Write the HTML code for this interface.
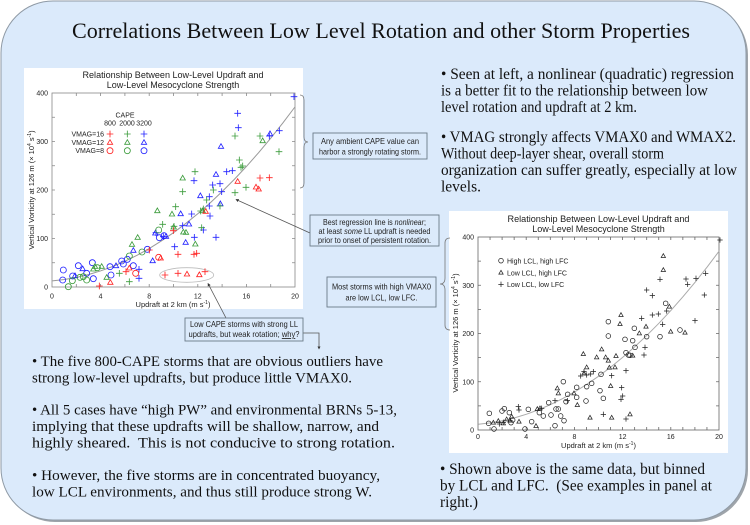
<!DOCTYPE html>
<html><head><meta charset="utf-8"><style>
html,body{margin:0;padding:0;background:#fff;}
svg{display:block;}
.s{font-family:"Liberation Serif",serif;fill:#111;}
.a{font-family:"Liberation Sans",sans-serif;fill:#222;}
</style></head><body>
<svg width="750" height="525" viewBox="0 0 750 525" xmlns="http://www.w3.org/2000/svg">
<defs>
<circle id="lc" r="9"/>
<path id="lt" d="M0,-9L8,5L-8,5Z"/>
<path id="lp" d="M-10,0H10M0,-10V10"/>
<circle id="rc" r="7"/>
<path id="rt" d="M0,-7L6.5,4.5L-6.5,4.5Z"/>
<path id="rp" d="M-8,0H8M0,-8V8"/>
<marker id="ah" viewBox="0 0 6 6" refX="5" refY="3" markerWidth="4" markerHeight="4" orient="auto"><path d="M0,0L6,3L0,6Z" fill="#333"/></marker>
</defs>
<rect x="3" y="3" width="745" height="519" rx="52" fill="#9ea4aa"/>
<rect x="1" y="1" width="745" height="519" rx="52" fill="#dbeafb" stroke="#8f9aa5" stroke-width="1"/>

<text class="s" x="72" y="38" font-size="22" textLength="618" lengthAdjust="spacingAndGlyphs">Correlations Between Low Level Rotation and other Storm Properties</text>

<!-- LEFT CHART -->
<rect x="24" y="68" width="279" height="241" fill="#fff"/>
<text class="a" x="173" y="78" font-size="9" text-anchor="middle" textLength="181" lengthAdjust="spacingAndGlyphs">Relationship Between Low-Level Updraft and</text>
<text class="a" x="173" y="88" font-size="9" text-anchor="middle">Low-Level Mesocyclone Strength</text>
<rect x="52" y="93" width="243" height="194" fill="none" stroke="#888" stroke-width="0.8"/>
<path d="M76.3,287v-3M100.6,287v-3M124.9,287v-3M149.2,287v-3M173.5,287v-3M197.8,287v-3M222.1,287v-3M246.4,287v-3M270.7,287v-3M76.3,93v3M100.6,93v3M124.9,93v3M149.2,93v3M173.5,93v3M197.8,93v3M222.1,93v3M246.4,93v3M270.7,93v3M52,262.75h3M52,238.5h3M52,214.25h3M52,190h3M52,165.75h3M52,141.5h3M52,117.25h3M295,262.75h-3M295,238.5h-3M295,214.25h-3M295,190h-3M295,165.75h-3M295,141.5h-3M295,117.25h-3" stroke="#888" stroke-width="0.8"/>
<g class="a" font-size="7" text-anchor="middle">
<text x="52" y="298.5">0</text><text x="100.6" y="298.5">4</text><text x="149.2" y="298.5">8</text><text x="197.8" y="298.5">12</text><text x="246.4" y="298.5">16</text><text x="295" y="298.5">20</text>
</g>
<g class="a" font-size="7" text-anchor="end">
<text x="48" y="289.5">0</text><text x="48" y="241">100</text><text x="48" y="192.5">200</text><text x="48" y="144">300</text><text x="48" y="95.5">400</text>
</g>
<text class="a" x="173" y="307" font-size="7.5" text-anchor="middle">Updraft at 2 km (m s<tspan dy="-3" font-size="5">-1</tspan><tspan dy="3">)</tspan></text>
<text class="a" transform="translate(34,190) rotate(-90)" font-size="7.5" text-anchor="middle">Vertical Vorticity at 126 m (× 10<tspan dy="-3" font-size="5">4</tspan><tspan dy="3"> s</tspan><tspan dy="-3" font-size="5">-1</tspan><tspan dy="3">)</tspan></text>
<!-- legend text -->
<text class="a" x="125" y="117.5" font-size="7" text-anchor="middle">CAPE</text>
<g class="a" font-size="7" text-anchor="middle"><text x="110" y="125.5">800</text><text x="127" y="125.5">2000</text><text x="144" y="125.5">3200</text></g>
<g class="a" font-size="7" text-anchor="end"><text x="104" y="136.5">VMAG=16</text><text x="104" y="145">VMAG=12</text><text x="104" y="153">VMAG=8</text></g>
<ellipse cx="186.7" cy="275" rx="27" ry="7.3" fill="none" stroke="#bbb" stroke-width="0.8"/>
<g transform="translate(40,60) scale(0.333333)" fill="none" stroke-width="2.5">
<polyline stroke="#999" stroke-width="3" points="37,662.6 73.4,658.5 109.8,652.2 146.2,643.5 182.6,632.4 219,619.1 255.4,603.4 291.8,585.5 328.2,565.2 364.6,542.5 401,517.6 437.4,490.3 473.8,460.8 510.2,428.9 546.6,394.6 583,358.1 619.4,319.2 655.8,278.1 692.2,234.6 728.6,188.7 765,140.6"/>
<g stroke="#2222ff">
<use href="#lp" x="312" y="222"/><use href="#lt" x="312" y="248"/><use href="#lc" x="312" y="272"/>
<use href="#lc" x="70" y="630"/><use href="#lc" x="68" y="660"/><use href="#lc" x="115" y="617"/><use href="#lc" x="140" y="640"/><use href="#lc" x="157" y="608"/><use href="#lc" x="160" y="656"/><use href="#lc" x="210" y="620"/><use href="#lc" x="213" y="645"/><use href="#lc" x="245" y="603"/><use href="#lc" x="250" y="612"/><use href="#lc" x="262" y="598"/><use href="#lc" x="280" y="617"/><use href="#lc" x="322" y="568"/><use href="#lc" x="358" y="533"/><use href="#lc" x="372" y="527"/><use href="#lc" x="98" y="648"/>
<use href="#lt" x="105" y="648"/><use href="#lt" x="128" y="627"/><use href="#lt" x="228" y="618"/><use href="#lt" x="280" y="572"/><use href="#lt" x="338" y="603"/><use href="#lt" x="346" y="520"/><use href="#lt" x="378" y="530"/><use href="#lt" x="422" y="462"/><use href="#lt" x="447" y="493"/><use href="#lt" x="437" y="548"/><use href="#lt" x="481" y="408"/><use href="#lt" x="528" y="344"/><use href="#lt" x="541" y="432"/><use href="#lt" x="543" y="260"/><use href="#lt" x="690" y="222"/>
<use href="#lp" x="297" y="628"/><use href="#lp" x="297" y="655"/><use href="#lp" x="348" y="518"/><use href="#lp" x="404" y="560"/><use href="#lp" x="428" y="497"/><use href="#lp" x="463" y="532"/><use href="#lp" x="455" y="462"/><use href="#lp" x="462" y="362"/><use href="#lp" x="508" y="410"/><use href="#lp" x="508" y="438"/><use href="#lp" x="510" y="468"/><use href="#lp" x="518" y="375"/><use href="#lp" x="540" y="371"/><use href="#lp" x="545" y="395"/><use href="#lp" x="528" y="532"/><use href="#lp" x="560" y="335"/><use href="#lp" x="577" y="332"/><use href="#lp" x="593" y="160"/><use href="#lp" x="595" y="203"/><use href="#lp" x="688" y="228"/><use href="#lp" x="718" y="212"/><use href="#lp" x="762" y="110"/><use href="#lp" x="490" y="510"/><use href="#lp" x="370" y="530"/>
</g>
<g stroke="#3c9c3c">
<use href="#lp" x="262" y="222"/><use href="#lt" x="262" y="248"/><use href="#lc" x="262" y="272"/>
<use href="#lc" x="85" y="680"/><use href="#lc" x="97" y="662"/><use href="#lc" x="120" y="652"/><use href="#lc" x="130" y="650"/><use href="#lc" x="140" y="660"/><use href="#lc" x="172" y="623"/><use href="#lc" x="268" y="588"/><use href="#lc" x="306" y="576"/><use href="#lc" x="356" y="510"/>
<use href="#lt" x="165" y="620"/><use href="#lt" x="185" y="620"/><use href="#lt" x="200" y="653"/><use href="#lt" x="276" y="554"/><use href="#lt" x="293" y="533"/><use href="#lt" x="352" y="453"/><use href="#lt" x="396" y="463"/><use href="#lt" x="401" y="502"/><use href="#lt" x="430" y="517"/><use href="#lt" x="438" y="518"/><use href="#lt" x="466" y="553"/><use href="#lt" x="428" y="355"/><use href="#lt" x="488" y="453"/><use href="#lt" x="668" y="243"/><use href="#lt" x="160" y="628"/>
<use href="#lp" x="238" y="640"/><use href="#lp" x="268" y="665"/><use href="#lp" x="368" y="493"/><use href="#lp" x="402" y="499"/><use href="#lp" x="407" y="440"/><use href="#lp" x="428" y="395"/><use href="#lp" x="465" y="335"/><use href="#lp" x="482" y="453"/><use href="#lp" x="485" y="503"/><use href="#lp" x="490" y="447"/><use href="#lp" x="520" y="390"/><use href="#lp" x="540" y="438"/><use href="#lp" x="585" y="228"/><use href="#lp" x="585" y="398"/><use href="#lp" x="598" y="300"/><use href="#lp" x="603" y="322"/><use href="#lp" x="608" y="318"/><use href="#lp" x="618" y="382"/><use href="#lp" x="660" y="228"/><use href="#lp" x="717" y="275"/><use href="#lp" x="500" y="420"/>
</g>
<g stroke="#ff2222">
<use href="#lp" x="210" y="222"/><use href="#lt" x="210" y="248"/><use href="#lc" x="210" y="272"/>
<use href="#lc" x="287" y="640"/><use href="#lc" x="356" y="592"/>
<use href="#lt" x="211" y="668"/><use href="#lt" x="268" y="625"/><use href="#lt" x="362" y="595"/><use href="#lt" x="441" y="643"/><use href="#lt" x="478" y="645"/><use href="#lt" x="497" y="455"/><use href="#lt" x="593" y="365"/><use href="#lt" x="648" y="382"/><use href="#lt" x="656" y="388"/>
<use href="#lp" x="178" y="678"/><use href="#lp" x="258" y="635"/><use href="#lp" x="328" y="570"/><use href="#lp" x="414" y="583"/><use href="#lp" x="462" y="583"/><use href="#lp" x="470" y="580"/><use href="#lp" x="375" y="645"/><use href="#lp" x="414" y="640"/><use href="#lp" x="495" y="635"/><use href="#lp" x="660" y="354"/><use href="#lp" x="688" y="353"/><use href="#lp" x="400" y="512"/>
</g>
</g>

<!-- RIGHT CHART -->
<rect x="449" y="211" width="279" height="242" fill="#fff"/>
<text class="a" x="598.5" y="222" font-size="9" text-anchor="middle" textLength="182" lengthAdjust="spacingAndGlyphs">Relationship Between Low-Level Updraft and</text>
<text class="a" x="598.5" y="232" font-size="9" text-anchor="middle">Low-Level Mesocyclone Strength</text>
<rect x="478" y="237" width="241" height="193" fill="none" stroke="#666" stroke-width="0.8"/>
<path d="M490.05,430v-3M502.1,430v-3M514.15,430v-3M526.2,430v-3M538.25,430v-3M550.3,430v-3M562.35,430v-3M574.4,430v-3M586.45,430v-3M598.5,430v-3M610.55,430v-3M622.6,430v-3M634.65,430v-3M646.7,430v-3M658.75,430v-3M670.8,430v-3M682.85,430v-3M694.9,430v-3M706.95,430v-3M490.05,237v3M502.1,237v3M514.15,237v3M526.2,237v3M538.25,237v3M550.3,237v3M562.35,237v3M574.4,237v3M586.45,237v3M598.5,237v3M610.55,237v3M622.6,237v3M634.65,237v3M646.7,237v3M658.75,237v3M670.8,237v3M682.85,237v3M694.9,237v3M706.95,237v3M478,405.9h3M478,381.75h3M478,357.6h3M478,333.5h3M478,309.4h3M478,285.25h3M478,261.1h3M719,405.9h-3M719,381.75h-3M719,357.6h-3M719,333.5h-3M719,309.4h-3M719,285.25h-3M719,261.1h-3" stroke="#666" stroke-width="0.8"/>
<g class="a" font-size="7" text-anchor="middle">
<text x="478" y="439">0</text><text x="526.2" y="439">4</text><text x="574.4" y="439">8</text><text x="622.6" y="439">12</text><text x="670.8" y="439">16</text><text x="719" y="439">20</text>
</g>
<g class="a" font-size="7" text-anchor="end">
<text x="474" y="432.5">0</text><text x="474" y="384.25">100</text><text x="474" y="336">200</text><text x="474" y="287.75">300</text><text x="474" y="239.5">400</text>
</g>
<text class="a" x="598.5" y="448" font-size="7.5" text-anchor="middle">Updraft at 2 km (m s<tspan dy="-3" font-size="5">-1</tspan><tspan dy="3">)</tspan></text>
<text class="a" transform="translate(458,333) rotate(-90)" font-size="7.5" text-anchor="middle">Vertical Vorticity at 126 m (× 10<tspan dy="-3" font-size="5">4</tspan><tspan dy="3"> s</tspan><tspan dy="-3" font-size="5">-1</tspan><tspan dy="3">)</tspan></text>
<g class="a" font-size="7"><text x="507" y="263.3">High LCL, high LFC</text><text x="507" y="275.3">Low LCL, high LFC</text><text x="507" y="287">Low LCL, low LFC</text></g>
<g transform="translate(440,230) scale(0.333333)" fill="none" stroke="#222" stroke-width="2.2">
<polyline stroke="#aaa" stroke-width="3" points="115,582.7 151.2,578.6 187.3,572.3 223.5,563.6 259.6,552.6 295.8,539.3 331.9,523.7 368.1,505.8 404.2,485.6 440.4,463 476.5,438.2 512.7,411 548.8,381.5 585,349.7 621.1,315.6 657.3,279.2 693.4,240.5 729.6,199.4 765.7,156.1 801.9,110.4 838,62.5"/>
<use href="#rc" x="183" y="92"/><use href="#rt" x="183" y="128"/><use href="#rp" x="183" y="163"/>
<use href="#rc" x="148" y="550"/><use href="#rc" x="146" y="580"/><use href="#rc" x="162" y="597"/><use href="#rc" x="186" y="543"/><use href="#rc" x="193" y="536"/><use href="#rc" x="208" y="548"/><use href="#rc" x="213" y="578"/><use href="#rc" x="218" y="570"/><use href="#rc" x="265" y="538"/><use href="#rc" x="255" y="597"/><use href="#rc" x="275" y="575"/><use href="#rc" x="298" y="548"/><use href="#rc" x="310" y="558"/><use href="#rc" x="326" y="518"/><use href="#rc" x="333" y="555"/><use href="#rc" x="348" y="537"/><use href="#rc" x="345" y="587"/><use href="#rc" x="355" y="537"/><use href="#rc" x="362" y="558"/><use href="#rc" x="370" y="455"/><use href="#rc" x="372" y="572"/><use href="#rc" x="378" y="515"/><use href="#rc" x="383" y="493"/><use href="#rc" x="410" y="502"/><use href="#rc" x="438" y="513"/><use href="#rc" x="440" y="470"/><use href="#rc" x="455" y="460"/><use href="#rc" x="480" y="482"/><use href="#rc" x="483" y="433"/><use href="#rc" x="490" y="505"/><use href="#rc" x="505" y="275"/><use href="#rc" x="505" y="318"/><use href="#rc" x="555" y="328"/><use href="#rc" x="558" y="368"/><use href="#rc" x="565" y="375"/><use href="#rc" x="570" y="376"/><use href="#rc" x="578" y="332"/><use href="#rc" x="583" y="295"/><use href="#rc" x="585" y="352"/><use href="#rc" x="620" y="320"/><use href="#rc" x="660" y="320"/><use href="#rc" x="677" y="220"/><use href="#rc" x="720" y="300"/><use href="#rc" x="410" y="472"/>
<use href="#rt" x="160" y="578"/><use href="#rt" x="175" y="573"/><use href="#rt" x="190" y="580"/><use href="#rt" x="200" y="568"/><use href="#rt" x="210" y="572"/><use href="#rt" x="215" y="560"/><use href="#rt" x="237" y="575"/><use href="#rt" x="292" y="537"/><use href="#rt" x="300" y="535"/><use href="#rt" x="288" y="588"/><use href="#rt" x="352" y="475"/><use href="#rt" x="355" y="490"/><use href="#rt" x="402" y="490"/><use href="#rt" x="412" y="525"/><use href="#rt" x="430" y="372"/><use href="#rt" x="432" y="430"/><use href="#rt" x="440" y="412"/><use href="#rt" x="450" y="563"/><use href="#rt" x="470" y="382"/><use href="#rt" x="485" y="358"/><use href="#rt" x="497" y="382"/><use href="#rt" x="505" y="392"/><use href="#rt" x="508" y="413"/><use href="#rt" x="512" y="468"/><use href="#rt" x="515" y="563"/><use href="#rt" x="525" y="412"/><use href="#rt" x="528" y="378"/><use href="#rt" x="540" y="282"/><use href="#rt" x="543" y="255"/><use href="#rt" x="570" y="553"/><use href="#rt" x="578" y="377"/><use href="#rt" x="598" y="310"/><use href="#rt" x="618" y="290"/><use href="#rt" x="670" y="78"/><use href="#rt" x="670" y="120"/><use href="#rt" x="688" y="230"/><use href="#rt" x="692" y="305"/><use href="#rt" x="735" y="308"/>
<use href="#rp" x="178" y="582"/><use href="#rp" x="190" y="577"/><use href="#rp" x="235" y="530"/><use href="#rp" x="237" y="540"/><use href="#rp" x="305" y="535"/><use href="#rp" x="345" y="512"/><use href="#rp" x="382" y="512"/><use href="#rp" x="422" y="438"/><use href="#rp" x="432" y="425"/><use href="#rp" x="440" y="435"/><use href="#rp" x="452" y="432"/><use href="#rp" x="460" y="425"/><use href="#rp" x="490" y="553"/><use href="#rp" x="515" y="437"/><use href="#rp" x="545" y="473"/><use href="#rp" x="548" y="498"/><use href="#rp" x="543" y="508"/><use href="#rp" x="558" y="422"/><use href="#rp" x="558" y="567"/><use href="#rp" x="612" y="375"/><use href="#rp" x="615" y="352"/><use href="#rp" x="605" y="265"/><use href="#rp" x="620" y="180"/><use href="#rp" x="637" y="197"/><use href="#rp" x="637" y="255"/><use href="#rp" x="655" y="252"/><use href="#rp" x="660" y="148"/><use href="#rp" x="668" y="283"/><use href="#rp" x="680" y="243"/><use href="#rp" x="738" y="147"/><use href="#rp" x="743" y="163"/><use href="#rp" x="765" y="272"/><use href="#rp" x="768" y="145"/><use href="#rp" x="793" y="195"/><use href="#rp" x="797" y="130"/><use href="#rp" x="840" y="30"/>
</g>

<!-- braces and connectors -->
<path d="M300,95Q304,95 304,100L304,137Q304,142 308,142Q304,142 304,147L304,183Q304,188 300,188" fill="none" stroke="#777" stroke-width="0.8"/>
<path d="M450,238Q445,238 445,243L445,278Q445,284 440,284Q445,284 445,290L445,325Q445,330 450,330" fill="none" stroke="#777" stroke-width="0.8"/>
<line x1="310" y1="233" x2="236" y2="199.5" stroke="#555" stroke-width="0.8" marker-end="url(#ah)"/>
<line x1="226" y1="318" x2="208" y2="283.5" stroke="#555" stroke-width="0.8" marker-end="url(#ah)"/>
<path d="M303,333H319V348" fill="none" stroke="#555" stroke-width="0.8"/>
<path d="M317.5,346.5L319,349.5L320.5,346.5Z" fill="#333"/>

<!-- callout boxes -->
<g fill="#dbeafb" stroke="#6b7a88" stroke-width="0.9">
<rect x="313" y="133" width="114" height="26"/>
<rect x="310" y="215" width="129" height="31"/>
<rect x="327" y="277" width="109" height="30"/>
<rect x="185" y="318" width="118" height="23"/>
</g>
<g class="a" font-size="8.5" text-anchor="middle" fill="#1a1a1a">
<text x="370" y="144" textLength="98" lengthAdjust="spacingAndGlyphs">Any ambient CAPE value can</text>
<text x="370" y="154.5" textLength="102" lengthAdjust="spacingAndGlyphs">harbor a strongly rotating storm.</text>
<text x="374.5" y="225" textLength="103" lengthAdjust="spacingAndGlyphs">Best regression line is <tspan font-style="italic">nonlinear</tspan>;</text>
<text x="374.5" y="234" textLength="112" lengthAdjust="spacingAndGlyphs">at least <tspan font-style="italic">some</tspan> LL updraft is needed</text>
<text x="374.5" y="243" textLength="113" lengthAdjust="spacingAndGlyphs">prior to onset of persistent rotation.</text>
<text x="381.5" y="289.5" textLength="99" lengthAdjust="spacingAndGlyphs">Most storms with high VMAX0</text>
<text x="381.5" y="300.5" textLength="72" lengthAdjust="spacingAndGlyphs">are low LCL, low LFC.</text>
<text x="244" y="327" textLength="108" lengthAdjust="spacingAndGlyphs">Low CAPE storms with strong LL</text>
<text x="244" y="337" textLength="111" lengthAdjust="spacingAndGlyphs">updrafts, but weak rotation; <tspan text-decoration="underline">why</tspan>?</text>
</g>

<!-- body text -->
<g class="s" font-size="15">
<text x="32" y="366" textLength="351" lengthAdjust="spacingAndGlyphs">• The five 800-CAPE storms that are obvious outliers have</text>
<text x="32" y="382.5" textLength="320" lengthAdjust="spacingAndGlyphs">strong low-level updrafts, but produce little VMAX0.</text>
<text x="32" y="414.5" textLength="365" lengthAdjust="spacingAndGlyphs">• All 5 cases have “high PW” and environmental BRNs 5-13,</text>
<text x="32" y="431" textLength="347" lengthAdjust="spacingAndGlyphs">implying that these updrafts will be shallow, narrow, and</text>
<text x="32" y="447.5" textLength="363" lengthAdjust="spacingAndGlyphs">highly sheared.&#160; This is not conducive to strong rotation.</text>
<text x="32" y="480" textLength="348" lengthAdjust="spacingAndGlyphs">• However, the five storms are in concentrated buoyancy,</text>
<text x="32" y="496.5" textLength="340" lengthAdjust="spacingAndGlyphs">low LCL environments, and thus still produce strong W.</text>
</g>
<g class="s" font-size="15.4">
<text x="441" y="79" textLength="293" lengthAdjust="spacingAndGlyphs">• Seen at left, a nonlinear (quadratic) regression</text>
<text x="441" y="95.5" textLength="267" lengthAdjust="spacingAndGlyphs">is a better fit to the relationship between low</text>
<text x="441" y="112" textLength="196" lengthAdjust="spacingAndGlyphs">level rotation and updraft at 2 km.</text>
<text x="441" y="142" textLength="295" lengthAdjust="spacingAndGlyphs">• VMAG strongly affects VMAX0 and WMAX2.</text>
<text x="441" y="158.5" textLength="223" lengthAdjust="spacingAndGlyphs">Without deep-layer shear, overall storm</text>
<text x="441" y="175" textLength="296" lengthAdjust="spacingAndGlyphs">organization can suffer greatly, especially at low</text>
<text x="441" y="191.5" textLength="40" lengthAdjust="spacingAndGlyphs">levels.</text>
<text x="440" y="474" textLength="265" lengthAdjust="spacingAndGlyphs">• Shown above is the same data, but binned</text>
<text x="440" y="490.5" textLength="272" lengthAdjust="spacingAndGlyphs">by LCL and LFC.&#160; (See examples in panel at</text>
<text x="440" y="507" textLength="38" lengthAdjust="spacingAndGlyphs">right.)</text>
</g>
</svg>
</body></html>
